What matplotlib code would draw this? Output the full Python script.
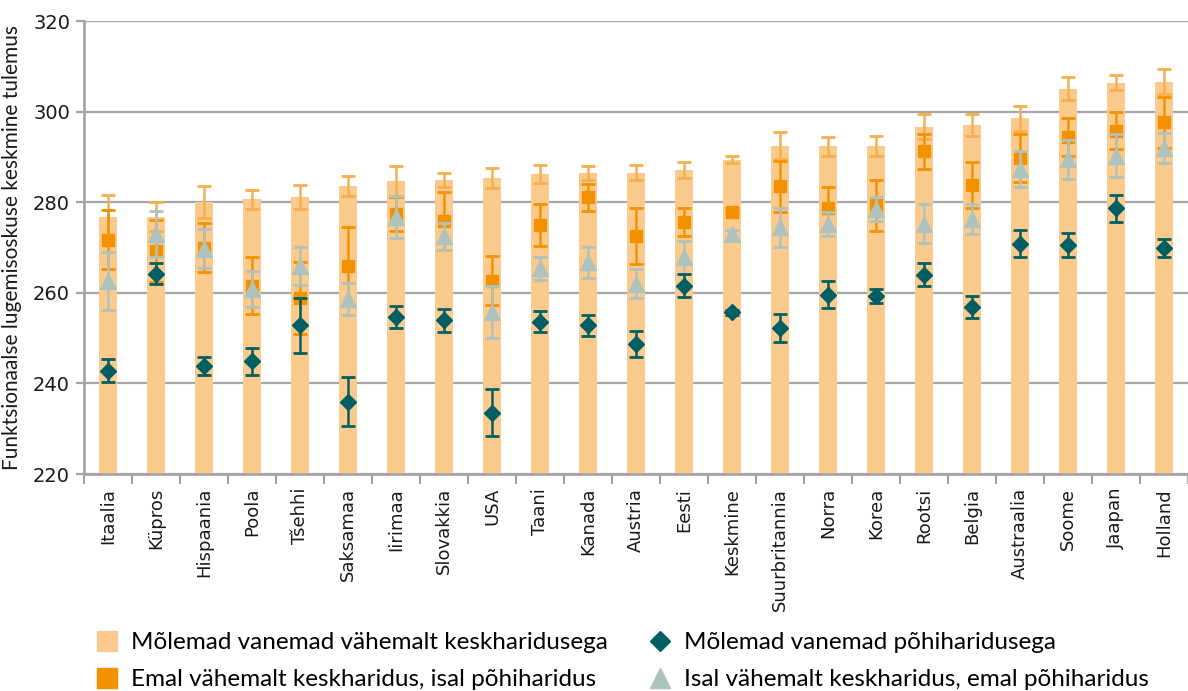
import matplotlib
matplotlib.use("Agg")
import matplotlib.pyplot as plt
from matplotlib.lines import Line2D
import numpy as np

countries = ["Itaalia", "Küpros", "Hispaania", "Poola", "Tšehhi", "Saksamaa", "Iirimaa",
             "Slovakkia", "USA", "Taani", "Kanada", "Austria", "Eesti", "Keskmine",
             "Suurbritannia", "Norra", "Korea", "Rootsi", "Belgia", "Austraalia",
             "Soome", "Jaapan", "Holland"]

# Mõlemad vanemad vähemalt keskharidusega (bars)
both_sec = [276.7, 276.8, 280.0, 280.6, 281.1, 283.5, 284.6, 284.9, 285.4, 286.3, 286.5, 286.5,
            287.1, 289.4, 292.5, 292.3, 292.5, 296.7, 297.0, 298.5, 305.1, 306.4, 306.6]
both_sec_err = [4.8, 3.2, 3.5, 2.0, 2.7, 2.2, 3.4, 1.6, 2.2, 2.0, 1.6, 1.7,
                1.7, 0.7, 3.0, 2.0, 2.2, 2.7, 2.4, 2.7, 2.5, 1.6, 2.8]

# Emal vähemalt keskharidus, isal põhiharidus (squares)
mother_sec = [271.7, 269.2, 270.0, 261.6, 258.8, 265.9, 277.4, 275.8, 262.7, 275.0, 281.1, 272.5,
              275.6, 277.8, 283.5, 278.7, 279.3, 291.2, 283.8, 289.7, 294.3, 295.8, 297.6]
mother_sec_err = [6.5, 6.8, 5.4, 6.2, 7.9, 8.6, 3.7, 6.4, 5.4, 4.7, 3.0, 6.2,
                  3.1, 0.5, 5.6, 4.6, 5.6, 3.8, 5.0, 5.3, 4.2, 4.1, 5.6]

# Isal vähemalt keskharidus, emal põhiharidus (triangles)
father_sec = [262.7, 273.0, 269.7, 260.9, 266.0, 258.6, 276.7, 272.5, 255.7, 265.4, 266.7, 262.0,
              267.8, 273.0, 274.5, 275.2, 278.5, 275.2, 276.3, 287.3, 289.5, 290.3, 291.9]
father_sec_err = [6.4, 5.0, 4.3, 4.0, 4.2, 3.5, 4.6, 3.0, 5.7, 2.6, 3.5, 3.2,
                  3.7, 0.8, 4.3, 2.7, 2.7, 4.3, 3.4, 3.9, 4.3, 4.7, 3.3]

# Mõlemad vanemad põhiharidusega (diamonds)
both_basic = [242.8, 264.2, 243.9, 244.9, 252.8, 236.0, 254.7, 253.9, 233.5, 253.6, 252.8, 248.7,
              261.6, 255.7, 252.2, 259.6, 259.3, 264.0, 256.9, 270.8, 270.5, 278.7, 269.9]
both_basic_err = [2.5, 2.3, 2.0, 3.0, 6.0, 5.5, 2.4, 2.5, 5.2, 2.3, 2.4, 2.8,
                  2.6, 0.5, 3.1, 3.0, 1.6, 2.5, 2.4, 3.0, 2.6, 3.0, 2.0]

yticks = [220, 240, 260, 280, 300, 320]
ylabel = "Funktsionaalse lugemisoskuse keskmine tulemus"
legend_labels = ["Mõlemad vanemad vähemalt keskharidusega",
                 "Emal vähemalt keskharidus, isal põhiharidus",
                 "Mõlemad vanemad põhiharidusega",
                 "Isal vähemalt keskharidus, emal põhiharidus"]

c_bar = "#FDCA8E"
c_bar_err = "#F7AE4E"
c_sq = "#F39200"
c_tri = "#AFC3BE"
c_dia = "#005F63"
c_grid = "#A6A6A6"

fig = plt.figure(figsize=(11.88, 6.91), dpi=100)
ax = fig.add_axes([0.0707, 0.314, 0.9293, 0.6556])

x = np.arange(len(countries))
ax.bar(x, np.array(both_sec) - 220, bottom=220, width=0.39, color=c_bar, zorder=2)
ax.errorbar(x, both_sec, yerr=both_sec_err, fmt="none", ecolor=c_bar_err, elinewidth=1.8,
            capsize=5, capthick=2.0, zorder=3)
ax.errorbar(x, mother_sec, yerr=mother_sec_err, fmt="s", color=c_sq, ecolor=c_sq, ms=8.2,
            elinewidth=1.8, capsize=5, capthick=2.0, zorder=4)
ax.errorbar(x, father_sec, yerr=father_sec_err, fmt="^", color=c_tri, ecolor=c_tri, ms=11,
            elinewidth=1.8, capsize=5, capthick=2.0, zorder=5)
ax.errorbar(x, both_basic, yerr=both_basic_err, fmt="D", color=c_dia, ecolor=c_dia, ms=8.5,
            elinewidth=1.8, capsize=5, capthick=2.0, zorder=6)

ax.set_ylim(220, 320)
ax.set_xlim(-0.48, 22.35)
ax.set_yticks(yticks)
ax.set_yticklabels([str(v) for v in yticks], fontsize=14, color="#1a1a1a", family="DejaVu Sans")
ax.yaxis.grid(True, color=c_grid, linewidth=1.6, zorder=0)
ax.set_axisbelow(True)
ax.tick_params(axis="y", length=6, width=1.6, color=c_grid, pad=4)

ax.set_xticks(x)
ax.set_xticklabels(countries, rotation=90, fontsize=13, color="#1a1a1a", family="DejaVu Sans")
ax.tick_params(axis="x", which="major", length=0, pad=10)
ax.set_xticks(np.arange(len(countries) + 1) - 0.5, minor=True)
ax.tick_params(axis="x", which="minor", length=7, width=1.6, color=c_grid)

for s in ["top", "right"]:
    ax.spines[s].set_visible(False)
for s in ["left", "bottom"]:
    ax.spines[s].set_color(c_grid)
    ax.spines[s].set_linewidth(2)

ax.set_ylabel(ylabel, fontsize=15, family="Lato", color="#1a1a1a")
ax.yaxis.set_label_coords(-0.056, 0.5)

handles = [
    Line2D([], [], linestyle="none", marker="s", ms=15, color=c_bar),
    Line2D([], [], linestyle="none", marker="s", ms=15, color=c_sq),
    Line2D([], [], linestyle="none", marker="D", ms=10, color=c_dia),
    Line2D([], [], linestyle="none", marker="^", ms=14, color=c_tri),
]
fig.legend(handles, legend_labels, ncol=2, loc="upper left", bbox_to_anchor=(0.0716, 0.099),
           frameon=False, prop={"family": "Lato", "size": 17.5}, handletextpad=0.5,
           columnspacing=1.63, labelspacing=0.65, handlelength=1.0, borderaxespad=0)

fig.savefig("out.png", dpi=100)
